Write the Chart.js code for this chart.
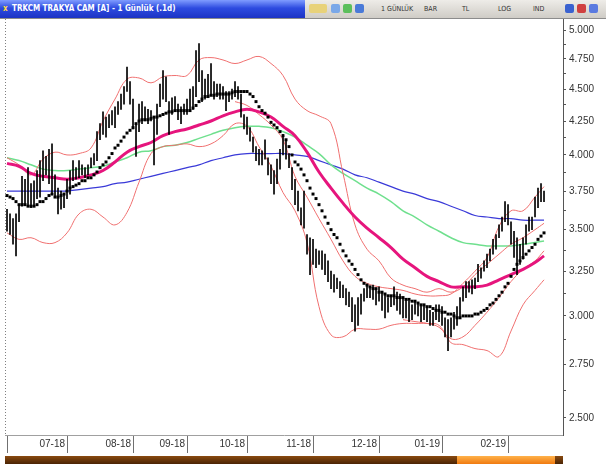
<!DOCTYPE html>
<html>
<head>
<meta charset="utf-8">
<script src="https://cdn.jsdelivr.net/npm/chart.js@4.4.1/dist/chart.umd.min.js"></script>
<style>
  body { margin: 0; background: #fff; width: 606px; height: 465px; overflow: hidden; position: relative; }
  #c { position: absolute; left: 0; top: 0; }
  #hdr { position: absolute; left: 0; top: 0; width: 606px; height: 18px; background: linear-gradient(#eeece8, #cfccc6); border-bottom: 1px solid #8c8c8c; font-family: "Liberation Sans Narrow", "DejaVu Sans Condensed", sans-serif; }
  #ttl { position: absolute; left: 0; top: 0; width: 305px; height: 18px; background: linear-gradient(#7f9cff, #2d4be0 45%, #1c33c4); color: #fff; font-weight: bold; font-size: 8px; line-height: 18px; }
  #ttl span.x { display: inline-block; width: 9px; margin-left: 3px; color: #ffd84a; }
  #hdr .t { position: absolute; top: 0; line-height: 18px; font-size: 7px; color: #333; }
  #hdr .ic { position: absolute; top: 4px; width: 9px; height: 9px; border-radius: 2px; }
  #scroll { position: absolute; left: 5px; top: 456px; width: 558px; height: 8px; background: linear-gradient(#8a4a10, #4a2404); }
  #thumb { position: absolute; left: 452px; top: 0; width: 98px; height: 8px; background: linear-gradient(#ffb24a, #f07a10); }
</style>
</head>
<body>
<canvas id="c" width="606" height="465"></canvas>
<div id="hdr">
  <div id="ttl"><span class="x">x</span>TRKCM TRAKYA CAM [A] - 1 Günlük (.1d)</div>
  <div class="ic" style="left:309px;width:18px;background:#e8d27a"></div>
  <div class="ic" style="left:331px;background:#7aa8e8"></div>
  <div class="ic" style="left:343px;background:#5cbf5c"></div>
  <div class="ic" style="left:355px;background:#4a7ad8"></div>
  <div class="t" style="left:381px">1 GÜNLÜK</div>
  <div class="t" style="left:424px">BAR</div>
  <div class="t" style="left:462px">TL</div>
  <div class="t" style="left:498px">LOG</div>
  <div class="t" style="left:533px">IND</div>
  <div class="ic" style="left:565px;background:#3a62d0"></div>
  <div class="ic" style="left:577px;background:#d04040"></div>
  <div class="ic" style="left:589px;background:#5a7ae0"></div>
</div>
<div id="scroll"><div id="thumb"></div></div>
<script>
// ------------ DATA ------------

// month boundaries (bar index of first trading day) and their labels
const monthTicks  = [0, 20, 42, 60, 80, 102, 124, 145, 167];
const monthLabels = ['', '07-18', '08-18', '09-18', '10-18', '11-18', '12-18', '01-19', '02-19'];

// price axis ticks (labels every 0.25, small marks between)
const yTicks = [2.5, 2.625, 2.75, 2.875, 3.0, 3.125, 3.25, 3.375, 3.5, 3.625, 3.75, 3.875,
                4.0, 4.125, 4.25, 4.375, 4.5, 4.625, 4.75, 4.875, 5.0];

// daily bars
const barHigh = [
  3.63,3.60,3.57,3.60,3.66,3.85,3.83,3.91,3.80,3.82, 3.89,3.96,4.03,3.99,4.04,4.08,3.86,3.77,3.75,3.73,
  3.83,3.89,3.96,3.91,3.96,3.93,3.91,3.93,3.98,4.01, 4.17,4.23,4.32,4.28,4.30,4.33,4.36,4.40,4.46,4.52,
  4.68,4.56,4.42,4.23,4.38,4.40,4.36,4.34,4.33,4.28, 4.38,4.54,4.65,4.60,4.40,4.43,4.44,4.38,4.36,4.38,
  4.42,4.50,4.52,4.82,4.88,4.65,4.58,4.62,4.71,4.56, 4.54,4.54,4.52,4.48,4.48,4.50,4.56,4.52,4.46,4.30,
  4.28,4.20,4.13,4.06,4.04,4.03,4.11,3.98,3.93,3.89, 3.97,4.04,4.15,4.11,4.01,3.91,3.83,3.75,3.64,3.75,
  3.47,3.45,3.44,3.38,3.37,3.37,3.35,3.31,3.25,3.23, 3.21,3.19,3.17,3.15,3.13,3.10,3.06,3.10,3.12,3.15,
  3.17,3.16,3.17,3.15,3.16,3.13,3.12,3.10,3.11,3.16, 3.13,3.12,3.10,3.09,3.08,3.06,3.08,3.07,3.06,3.06,
  3.05,3.03,3.02,3.06,3.06,3.05,2.99,2.98,2.99,3.02, 3.05,3.10,3.16,3.19,3.19,3.20,3.21,3.29,3.27,3.31,
  3.35,3.38,3.44,3.47,3.53,3.58,3.68,3.66,3.55,3.49, 3.45,3.41,3.45,3.53,3.58,3.58,3.71,3.77,3.80,3.75
];
const barLow = [
  3.49,3.47,3.41,3.34,3.55,3.65,3.66,3.66,3.64,3.66, 3.70,3.71,3.82,3.86,3.80,3.73,3.71,3.60,3.63,3.64,
  3.70,3.73,3.82,3.83,3.84,3.86,3.84,3.86,3.91,3.93, 3.96,4.11,4.15,4.13,4.20,4.22,4.20,4.30,4.34,4.38,
  4.48,4.38,4.19,3.99,4.17,4.23,4.25,4.23,4.25,3.93, 4.15,4.36,4.42,4.40,4.15,4.30,4.33,4.26,4.23,4.30,
  4.30,4.33,4.34,4.44,4.56,4.40,4.42,4.44,4.46,4.42, 4.44,4.42,4.42,4.33,4.40,4.42,4.44,4.42,4.28,4.19,
  4.15,4.10,4.02,3.96,3.93,3.93,3.97,3.86,3.80,3.73, 3.80,3.90,4.00,3.97,3.91,3.76,3.66,3.62,3.53,3.51,
  3.35,3.23,3.29,3.27,3.29,3.26,3.23,3.19,3.15,3.13, 3.15,3.10,3.10,3.06,3.05,2.97,2.92,2.95,3.01,3.08,
  3.10,3.10,3.09,3.06,3.08,3.03,2.99,3.02,3.05,3.06, 3.03,3.01,2.99,2.99,2.97,2.98,3.01,3.00,2.97,2.98,
  2.97,2.95,2.95,2.98,2.97,2.95,2.89,2.82,2.89,2.93, 2.95,2.99,3.08,3.10,3.13,3.12,3.15,3.19,3.21,3.25,
  3.27,3.31,3.35,3.38,3.45,3.49,3.55,3.53,3.41,3.33, 3.23,3.29,3.32,3.41,3.49,3.50,3.58,3.64,3.68,3.68
];

// short average drawn as black dots, one per bar
const maDots = [
  3.72,3.71,3.70,3.68,3.66,3.66,3.66,3.65,3.65,3.65, 3.66,3.68,3.68,3.70,3.72,3.73,3.71,3.71,3.72,3.73,
  3.75,3.77,3.78,3.79,3.80,3.82,3.82,3.84,3.84,3.86, 3.88,3.91,3.93,3.95,3.98,4.01,4.05,4.07,4.10,4.13,
  4.16,4.18,4.20,4.23,4.25,4.26,4.26,4.26,4.27,4.28, 4.28,4.29,4.30,4.31,4.32,4.32,4.33,4.33,4.33,4.33,
  4.33,4.33,4.35,4.37,4.40,4.42,4.44,4.44,4.45,4.45, 4.46,4.46,4.46,4.46,4.46,4.47,4.48,4.48,4.48,4.48,
  4.48,4.46,4.44,4.40,4.36,4.33,4.31,4.28,4.24,4.22, 4.20,4.17,4.14,4.11,4.06,4.00,3.95,3.93,3.90,3.86,
  3.82,3.77,3.73,3.70,3.66,3.62,3.58,3.54,3.50,3.47, 3.45,3.41,3.37,3.34,3.31,3.29,3.26,3.23,3.20,3.18,
  3.17,3.16,3.15,3.15,3.13,3.13,3.12,3.11,3.11,3.11, 3.10,3.10,3.10,3.09,3.09,3.08,3.08,3.07,3.06,3.06,
  3.05,3.05,3.04,3.03,3.03,3.02,3.02,3.01,3.01,3.00, 2.99,2.99,3.00,3.00,3.00,3.00,3.01,3.01,3.02,3.03,
  3.04,3.06,3.07,3.09,3.11,3.13,3.16,3.18,3.22,3.26, 3.29,3.31,3.33,3.35,3.37,3.39,3.41,3.44,3.46,3.48
];

// indicator lines, read every 4th bar (null where the line is not seen apart from the others)
const sampleIdx = [0,4,8,12,16,20,24,28,32,36,40,44,48,52,56,60,64,68,72,76,80,84,88,92,96,100,
                   104,108,112,116,120,124,128,132,136,140,144,148,152,156,160,164,168,172,176,179];
const maPink = [3.94,3.92,3.87,3.85,3.84,3.83,3.84,3.86,3.89,3.95,4.02,4.06,4.09,4.14,4.17,4.19,4.22,4.25,4.29,4.32,
                4.34,4.32,4.28,4.21,4.14,4.02,3.88,3.77,3.67,3.58,3.51,3.45,3.39,3.32,3.27,3.22,3.19,3.16,3.16,3.16,
                3.17,3.20,3.23,3.26,3.30,3.34];
const maGreen = [3.98,3.96,3.93,3.90,3.89,3.89,3.90,3.91,3.92,3.95,3.98,4.02,4.03,4.06,4.07,4.09,4.12,4.15,4.18,4.20,
                 4.21,4.21,4.20,4.17,4.13,4.07,4.01,3.93,3.87,3.82,3.77,3.73,3.68,3.62,3.58,3.53,3.49,3.45,3.42,3.41,
                 3.40,3.40,3.40,3.41,3.42,3.43];
const maBlue = [3.75,3.75,3.75,3.75,3.75,3.75,3.76,3.77,3.78,3.80,3.81,3.83,3.85,3.87,3.89,3.91,3.93,3.96,3.98,4.00,
                4.01,4.01,4.01,4.01,4.00,3.99,3.96,3.93,3.90,3.86,3.84,3.81,3.78,3.75,3.73,3.70,3.68,3.65,3.62,3.59,
                3.58,3.57,3.57,3.56,3.56,3.56];
const bandUpper = [3.98,3.93,3.86,3.97,4.02,4.00,4.01,4.05,4.25,4.42,4.58,4.59,4.55,4.60,4.61,4.61,4.74,4.76,4.74,4.71,
                   4.74,4.77,4.71,4.61,4.42,4.33,4.29,4.23,3.87,3.53,3.38,3.31,3.21,3.17,3.15,3.13,3.15,3.13,3.16,3.23,
                   3.29,3.35,3.41,3.45,3.50,3.54];
const bandLower = [3.48,3.44,3.45,3.42,3.42,3.48,3.60,3.63,3.58,3.53,3.61,3.81,4.01,4.06,4.07,4.08,4.06,4.08,4.14,4.23,
                   4.21,4.06,3.92,3.74,3.62,3.42,3.05,2.90,2.89,2.93,2.93,2.93,2.95,2.96,2.96,2.96,2.95,2.86,2.85,2.83,
                   2.82,2.79,2.92,3.06,3.14,3.20];
const innerUpper = [null,null,null,null,null,null,null,null,null,null,null,null,null,null,null,null,null,null,null,
                    4.40,4.37,4.30,4.22,4.11,3.85,3.71,3.57,3.44,3.31,3.22,3.18,3.16,3.15,3.14,3.12,3.11,3.11,3.12,
                    3.18,3.25,3.33,3.52,3.62,3.62,3.71,3.78];
const innerLower = [null,null,null,null,null,null,null,null,null,null,null,null,null,null,null,null,null,null,null,
                    null,null,null,null,null,null,null,null,null,null,null,null,null,null,
                    2.98,2.97,2.96,2.94,2.88,2.89,2.95,3.02,3.10,3.19,3.26,3.31,3.37];

// ------------ CHART ------------

function series(vals) {
  return sampleIdx.map((x, k) => ({ x: x, y: vals[k] }));
}

function lineSet(vals, color, width, order) {
  return {
    type: 'line', data: series(vals), borderColor: color, borderWidth: width,
    pointRadius: 0, tension: 0.4, fill: false, spanGaps: false, order: order
  };
}

const frame = {
  id: 'frame',
  beforeDatasetsDraw(chart) {
    const { ctx, chartArea: a } = chart;
    ctx.save();
    ctx.strokeStyle = '#808080';
    ctx.lineWidth = 1;
    ctx.setLineDash([1, 2]);
    ctx.beginPath();
    ctx.moveTo(a.left + 0.5, a.top);
    ctx.lineTo(a.left + 0.5, a.bottom);
    ctx.stroke();
    ctx.restore();
  }
};

const axisFont = { family: '"Liberation Sans Narrow", "Liberation Sans", sans-serif', size: 10 };
const bandRed = '#f07070';

const config = {
  data: {
    datasets: [
      {
        type: 'bar',
        data: barHigh.map((h, i) => ({ x: i, y: [barLow[i], h] })),
        backgroundColor: '#000', barThickness: 1, borderSkipped: false, order: 0
      },
      {
        type: 'scatter',
        data: maDots.map((v, i) => ({ x: i, y: v })),
        pointStyle: 'rect', pointRadius: 2.1, backgroundColor: '#000', borderWidth: 0, order: 1
      },
      lineSet(maPink, '#e6157d', 3, 2),
      lineSet(bandUpper, bandRed, 1, 3),
      lineSet(bandLower, bandRed, 1, 3),
      lineSet(innerUpper, bandRed, 1, 3),
      lineSet(innerLower, bandRed, 1, 3),
      lineSet(maGreen, '#6fe08e', 1.5, 4),
      lineSet(maBlue, '#3a3ad8', 1.2, 5)
    ]
  },
  options: {
    responsive: false,
    animation: false,
    devicePixelRatio: 1,
    layout: { padding: { top: 19, left: 5, right: 0, bottom: 12 } },
    plugins: { legend: { display: false }, tooltip: { enabled: false } },
    scales: {
      x: {
        type: 'linear', position: 'bottom', min: -0.67, max: 185.33, offset: false, bounds: 'data',
        afterBuildTicks: s => { s.ticks = monthTicks.map(v => ({ value: v })); },
        afterFit: s => { s.height = 18; },
        grid: { drawOnChartArea: false, drawTicks: true, tickLength: 18, color: '#707070', offset: false },
        border: { display: true, color: '#a0a0a0' },
        ticks: {
          autoSkip: false, maxRotation: 0, align: 'end', padding: -15, labelOffset: -2,
          color: '#333', font: axisFont,
          callback: (v, i) => monthLabels[i]
        }
      },
      y: {
        type: 'logarithmic', position: 'right', min: 2.425, max: 5.10, bounds: 'data',
        afterBuildTicks: s => { s.ticks = yTicks.map(v => ({ value: v })); },
        afterFit: s => { s.width = 43; },
        grid: { drawOnChartArea: false, drawTicks: true, tickLength: 3, color: '#555' },
        border: { display: true, color: '#555' },
        ticks: {
          autoSkip: false, padding: 3, color: '#333', font: axisFont,
          callback: v => (Math.round(v * 1000) % 250 === 0 ? v.toFixed(3) : '')
        }
      }
    }
  },
  plugins: [frame]
};

new Chart(document.getElementById('c').getContext('2d'), config);
</script>
</body>
</html>
